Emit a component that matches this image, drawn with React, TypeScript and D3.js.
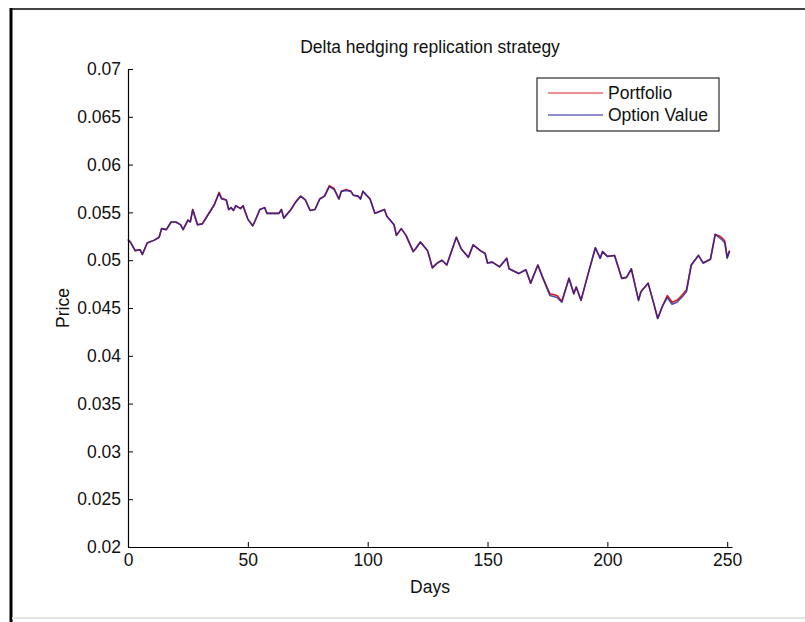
import React, { useRef, useEffect } from 'react';
import * as d3 from 'd3';

// option value as [day, price]
const optionValue: [number, number][] = [
  [0, 0.0521], [1, 0.0519], [3, 0.051], [5, 0.0511], [6, 0.0506], [8, 0.0518], [11, 0.0521],
  [13, 0.0524], [14, 0.0533], [16, 0.0532], [18, 0.054], [20, 0.054], [22, 0.0537], [23, 0.0532],
  [25, 0.0542], [26, 0.054], [27, 0.0553], [29, 0.0537], [31, 0.0538], [33, 0.0546], [36, 0.0558],
  [38, 0.057], [39, 0.0564], [41, 0.0563], [42, 0.0553], [43, 0.0555], [44, 0.0552], [45, 0.0557],
  [47, 0.0554], [48, 0.0557], [50, 0.0543], [52, 0.0536], [53, 0.0541], [55, 0.0553], [57, 0.0555],
  [58, 0.0549], [61, 0.0549], [63, 0.0549], [64, 0.0553], [65, 0.0544], [68, 0.0553], [70, 0.0561],
  [72, 0.0567], [74, 0.0563], [76, 0.0552], [78, 0.0553], [80, 0.0564], [82, 0.0567], [84, 0.0577],
  [86, 0.0574], [88, 0.0564], [89, 0.0572], [91, 0.0573], [93, 0.0572], [94, 0.0568], [96, 0.0567],
  [97, 0.0564], [98, 0.0572], [101, 0.0564], [103, 0.0549], [105, 0.0551], [107, 0.0553], [108, 0.0546],
  [111, 0.0537], [112, 0.0526], [114, 0.0533], [116, 0.0526], [119, 0.0509], [120, 0.0512], [122, 0.0519],
  [125, 0.051], [127, 0.0492], [129, 0.0497], [131, 0.05], [133, 0.0495], [137, 0.0524], [139, 0.0512],
  [142, 0.0503], [144, 0.0516], [147, 0.051], [149, 0.0507], [150, 0.0497], [152, 0.0498], [155, 0.0493],
  [158, 0.0502], [159, 0.0491], [163, 0.0486], [166, 0.049], [168, 0.0476], [171, 0.0495], [173, 0.0482],
  [176, 0.0463], [179, 0.0461], [181, 0.0456], [184, 0.0481], [186, 0.0465], [187, 0.0472], [189, 0.0458],
  [192, 0.0486], [195, 0.0513], [197, 0.0502], [198, 0.0509], [200, 0.0504], [203, 0.0505], [206, 0.0481],
  [208, 0.0482], [210, 0.0491], [213, 0.0458], [214, 0.0467], [217, 0.0476], [219, 0.0458], [221, 0.0439],
  [223, 0.0452], [225, 0.0461], [227, 0.0454], [229, 0.0456], [231, 0.0461], [233, 0.0467], [235, 0.0495],
  [238, 0.0505], [240, 0.0497], [243, 0.0501], [245, 0.0527], [247, 0.0523], [248, 0.0521], [249, 0.0518],
  [250, 0.0502], [251, 0.051],
];

// portfolio, almost the same, drifts a little in a few places
const portfolio: [number, number][] = [
  [0, 0.0522], [1, 0.0519], [3, 0.051], [5, 0.0511], [6, 0.0506], [8, 0.0518], [11, 0.0521],
  [13, 0.0524], [14, 0.0533], [16, 0.0532], [18, 0.054], [20, 0.054], [22, 0.0537], [23, 0.0532],
  [25, 0.0542], [26, 0.054], [27, 0.0553], [29, 0.0537], [31, 0.0538], [33, 0.0546], [36, 0.0558],
  [38, 0.0571], [39, 0.0565], [41, 0.0563], [42, 0.0553], [43, 0.0555], [44, 0.0552], [45, 0.0557],
  [47, 0.0554], [48, 0.0557], [50, 0.0543], [52, 0.0536], [53, 0.0541], [55, 0.0553], [57, 0.0555],
  [58, 0.0549], [61, 0.0549], [63, 0.0549], [64, 0.0553], [65, 0.0544], [68, 0.0553], [70, 0.0561],
  [72, 0.0567], [74, 0.0563], [76, 0.0552], [78, 0.0553], [80, 0.0564], [82, 0.0567], [84, 0.0578],
  [86, 0.0575], [88, 0.0564], [89, 0.0572], [91, 0.0574], [93, 0.0572], [94, 0.0568], [96, 0.0567],
  [97, 0.0564], [98, 0.0572], [101, 0.0564], [103, 0.0549], [105, 0.0551], [107, 0.0553], [108, 0.0546],
  [111, 0.0537], [112, 0.0526], [114, 0.0533], [116, 0.0526], [119, 0.0509], [120, 0.0512], [122, 0.0519],
  [125, 0.051], [127, 0.0492], [129, 0.0497], [131, 0.05], [133, 0.0495], [137, 0.0524], [139, 0.0512],
  [142, 0.0503], [144, 0.0516], [147, 0.051], [149, 0.0507], [150, 0.0497], [152, 0.0498], [155, 0.0493],
  [158, 0.0502], [159, 0.0491], [163, 0.0486], [166, 0.049], [168, 0.0476], [171, 0.0495], [173, 0.0482],
  [176, 0.0465], [179, 0.0463], [181, 0.0457], [184, 0.0481], [186, 0.0465], [187, 0.0472], [189, 0.0458],
  [192, 0.0486], [195, 0.0513], [197, 0.0502], [198, 0.0509], [200, 0.0504], [203, 0.0505], [206, 0.0481],
  [208, 0.0482], [210, 0.0491], [213, 0.0458], [214, 0.0467], [217, 0.0476], [219, 0.0458], [221, 0.0439],
  [223, 0.0452], [225, 0.0463], [227, 0.0456], [229, 0.0458], [231, 0.0463], [233, 0.0469], [235, 0.0495],
  [238, 0.0505], [240, 0.0497], [243, 0.0501], [245, 0.0527], [247, 0.0525], [248, 0.0523], [249, 0.052],
  [250, 0.0503], [251, 0.051],
];

const xTicks = [0, 50, 100, 150, 200, 250];
const yTicks = [0.02, 0.025, 0.03, 0.035, 0.04, 0.045, 0.05, 0.055, 0.06, 0.065, 0.07];
const seriesNames = ['Portfolio', 'Option Value'];
const seriesColors = ['#e02020', '#1f1f9a'];

const FONT = '"Liberation Sans", Arial, Helvetica, sans-serif';

export default function App() {
  const ref = useRef<SVGSVGElement>(null);

  useEffect(() => {
    const svg = d3.select(ref.current);
    svg.selectAll('*').remove();

    const W = 805;
    const H = 622;
    const margin = { top: 69, right: 73, bottom: 75, left: 128 };

    // window frame
    svg.append('rect').attr('width', W).attr('height', H).attr('fill', '#fff');
    svg.append('line').attr('x1', 10).attr('x2', W).attr('y1', 9).attr('y2', 9)
      .attr('stroke', '#444').attr('stroke-width', 2);
    svg.append('line').attr('x1', 11).attr('x2', 11).attr('y1', 8).attr('y2', H)
      .attr('stroke', '#000').attr('stroke-width', 3);
    svg.append('line').attr('x1', 12).attr('x2', W).attr('y1', 618).attr('y2', 618)
      .attr('stroke', '#e2e2e2').attr('stroke-width', 2);

    const x = d3.scaleLinear().domain([0, 252]).range([margin.left, W - margin.right]);
    const y = d3.scaleLinear().domain([0.02, 0.07]).range([H - margin.bottom, margin.top]);

    const g = svg.append('g').attr('font-family', FONT);

    // data lines (red first, blue on top)
    const line = d3.line<[number, number]>().x(d => x(d[0])).y(d => y(d[1]));
    [portfolio, optionValue].forEach((data, i) => {
      g.append('path')
        .attr('d', line(data))
        .attr('fill', 'none')
        .attr('stroke', seriesColors[i])
        .attr('stroke-width', 1.6)
        .attr('stroke-opacity', i === 1 ? 0.78 : 1)
        .attr('stroke-linejoin', 'round');
    });

    // axes, ticks pointing inward
    const xAxis = d3.axisBottom(x).tickValues(xTicks).tickSizeInner(-5).tickSizeOuter(0).tickPadding(7);
    const yAxis = d3.axisLeft(y).tickValues(yTicks).tickSizeInner(-5).tickSizeOuter(0).tickPadding(7)
      .tickFormat(d => String(+(+d).toFixed(3)));

    const gx = g.append('g').attr('transform', `translate(0,${H - margin.bottom})`).call(xAxis);
    const gy = g.append('g').attr('transform', `translate(${margin.left},0)`).call(yAxis);
    [gx, gy].forEach(a => {
      a.select('.domain').attr('stroke', '#000').attr('stroke-width', 1.2);
      a.selectAll('.tick line').attr('stroke', '#000');
      a.selectAll('.tick text').attr('font-family', FONT).attr('font-size', 17.5).attr('fill', '#111');
    });

    // title and axis labels
    g.append('text').attr('x', (x(0) + x(252)) / 2).attr('y', 53)
      .attr('text-anchor', 'middle').attr('font-size', 17.5).attr('fill', '#111')
      .text('Delta hedging replication strategy');
    g.append('text').attr('x', (x(0) + x(252)) / 2).attr('y', H - margin.bottom + 46)
      .attr('text-anchor', 'middle').attr('font-size', 17.5).attr('fill', '#111')
      .text('Days');
    g.append('text')
      .attr('transform', `translate(69,${(y(0.02) + y(0.07)) / 2}) rotate(-90)`)
      .attr('text-anchor', 'middle').attr('font-size', 17.5).attr('fill', '#111')
      .text('Price');

    // legend
    const lg = g.append('g').attr('transform', 'translate(537,78)');
    lg.append('rect').attr('width', 182).attr('height', 53)
      .attr('fill', '#fff').attr('stroke', '#000').attr('stroke-width', 1);
    seriesNames.forEach((name, i) => {
      const ly = 15 + i * 22;
      lg.append('line').attr('x1', 11).attr('x2', 66).attr('y1', ly).attr('y2', ly)
        .attr('stroke', seriesColors[i]).attr('stroke-width', 1.2);
      lg.append('text').attr('x', 71).attr('y', ly).attr('dy', '0.35em')
        .attr('font-size', 17.5).attr('fill', '#111').text(name);
    });
  }, []);

  return (
    <svg ref={ref} width={805} height={622}
      style={{ position: 'absolute', left: 0, top: 0, display: 'block' }} />
  );
}
